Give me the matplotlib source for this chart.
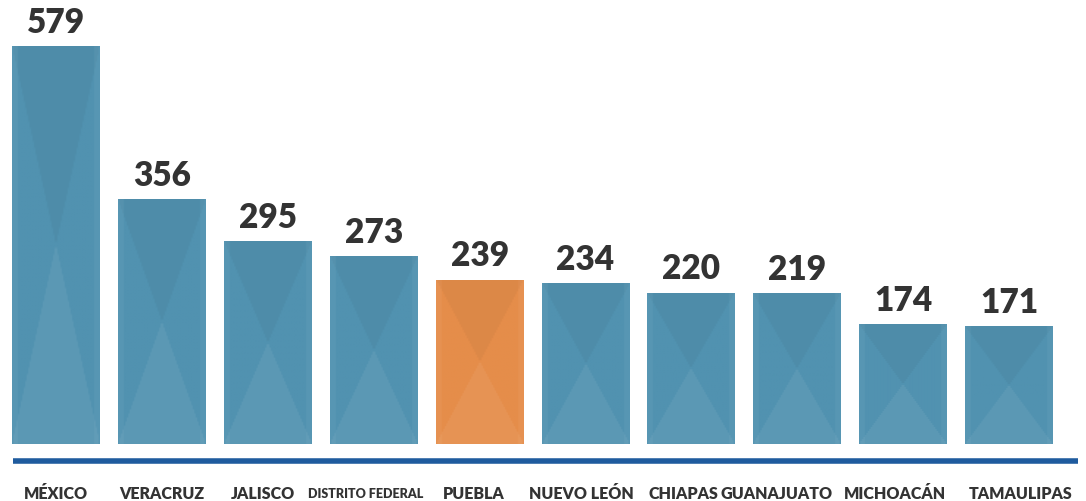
import numpy as np
import matplotlib
matplotlib.use("Agg")
import matplotlib.pyplot as plt
from matplotlib.colors import to_rgb

estados = ['MÉXICO', 'VERACRUZ', 'JALISCO', 'DISTRITO FEDERAL', 'PUEBLA',
           'NUEVO LEÓN', 'CHIAPAS', 'GUANAJUATO', 'MICHOACÁN', 'TAMAULIPAS']
valores = [579, 356, 295, 273, 239, 234, 220, 219, 174, 171]
destacado = 'PUEBLA'

azul = '#5192b0'
naranja = '#e58d4a'
texto = '#333333'

plt.rcParams['font.family'] = ['Lato', 'DejaVu Sans']

fig = plt.figure(figsize=(10.86, 5.02), dpi=100)
ax = fig.add_axes([0, 0.1135, 1, 0.8865])

x = np.arange(len(estados))
colores = [naranja if e == destacado else azul for e in estados]
barras = ax.bar(x, valores, width=0.83, color=colores, linewidth=0)

# textura suave en forma de reloj de arena dentro de cada barra
nu, nv = 60, 120
u = np.abs(np.linspace(-1, 1, nu))[None, :]
v = np.linspace(1, 0, nv)[:, None]
arriba = (v > 0.5) & (u < (v - 0.5) * 2)
abajo = (v <= 0.5) & (u < (0.5 - v) * 2)
for b, c in zip(barras, colores):
    base = np.array(to_rgb(c))
    img = np.ones((nv, nu, 3)) * base
    img = img * (1 - 0.035 * arriba[..., None])
    img = img + (1 - img) * (0.06 * abajo[..., None])
    img = img + (1 - img) * (0.04 * (u > 0.88)[..., None])
    im = ax.imshow(img, extent=[b.get_x(), b.get_x() + b.get_width(), 0, b.get_height()],
                   aspect='auto', zorder=2, interpolation='bilinear')
    im.set_clip_path(b)

for xi, val in zip(x, valores):
    ax.text(xi, val + 12, str(val), ha='center', va='bottom', fontsize=24,
            fontweight='heavy', color=texto)

ax.set_xlim(-0.529, 9.726)
ax.set_ylim(0, 647)
ax.axis('off')

# linea base azul y etiquetas
ax.plot([-0.41, 9.65], [-25, -25], color='#1f5b9e', linewidth=4, clip_on=False,
        solid_capstyle='butt')
desplaz = [0, 0, -0.05, -0.08, -0.06, -0.04, -0.08, -0.2, -0.08, 0.11]
for xi, e, d in zip(x, estados, desplaz):
    tam = 9 if e == 'DISTRITO FEDERAL' else 11.5
    ax.text(xi + d, -71, e, ha='center', va='center', fontsize=tam, fontweight='heavy',
            color=texto, clip_on=False)

fig.savefig('out.png', dpi=100, facecolor='white')
